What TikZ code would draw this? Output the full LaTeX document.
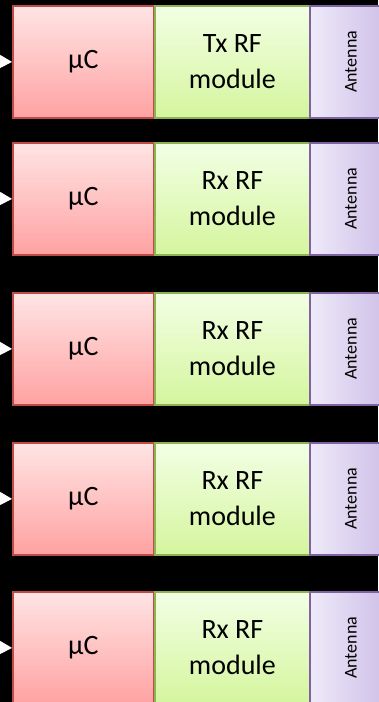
\documentclass[tikz,border=0pt]{standalone}
\usepackage{fontspec}
\setmainfont{Carlito}
\usetikzlibrary{arrows.meta}
\definecolor{redtop}{HTML}{FFE4E4}
\definecolor{redbot}{HTML}{FFA2A2}
\definecolor{redline}{HTML}{BE4B48}
\definecolor{grntop}{HTML}{F2FFE4}
\definecolor{grnbot}{HTML}{D5F59E}
\definecolor{grnline}{HTML}{8EB152}
\definecolor{purleft}{HTML}{EEEAF9}
\definecolor{purright}{HTML}{CBBBE6}
\definecolor{purline}{HTML}{7F63A1}
\tikzset{
  mcbox/.style={draw=redline, line width=1.8pt, top color=redtop, bottom color=redbot,
    minimum width=141pt, minimum height=112pt, anchor=north west, inner sep=0pt,
    font=\fontsize{28}{34}\selectfont, text=black, align=center},
  rfbox/.style={draw=grnline, line width=1.8pt, top color=grntop, bottom color=grnbot,
    minimum width=155pt, minimum height=112pt, anchor=north west, inner sep=0pt,
    font=\fontsize{28}{36}\selectfont, text=black, align=center},
  antbox/.style={draw=purline, line width=1.8pt, left color=purleft, right color=purright,
    minimum width=84pt, minimum height=112pt, anchor=north west, inner sep=0pt},
  anttext/.style={rotate=90, font=\fontsize{18}{20}\selectfont, text=black},
  inarrow/.style={draw=black, line width=1pt, -{Triangle[color=white, length=12pt, width=13pt]}}
}
\begin{document}
\begin{tikzpicture}[x=1pt,y=-1pt]
\fill[black] (0,0) rectangle (378,702);
\useasboundingbox (0,0) rectangle (378,702);
\foreach \i/\top/\lab in {1/5/Tx RF, 2/142/Rx RF, 3/292/Rx RF, 4/442/Rx RF, 5/591/Rx RF} {
  \node[mcbox] (mc\i) at (12,\top) {µC};
  \node[rfbox] (rf\i) at (154,\top) {\lab\\module};
  \node[antbox] (ant\i) at (309,\top) {};
  \node[anttext] (antl\i) at ([xshift=-1pt]ant\i.center) {Antenna};
  \coordinate (src\i) at (-20,\top+56);
  \draw[inarrow] (src\i) -- (mc\i.west);
}
\end{tikzpicture}
\end{document}
